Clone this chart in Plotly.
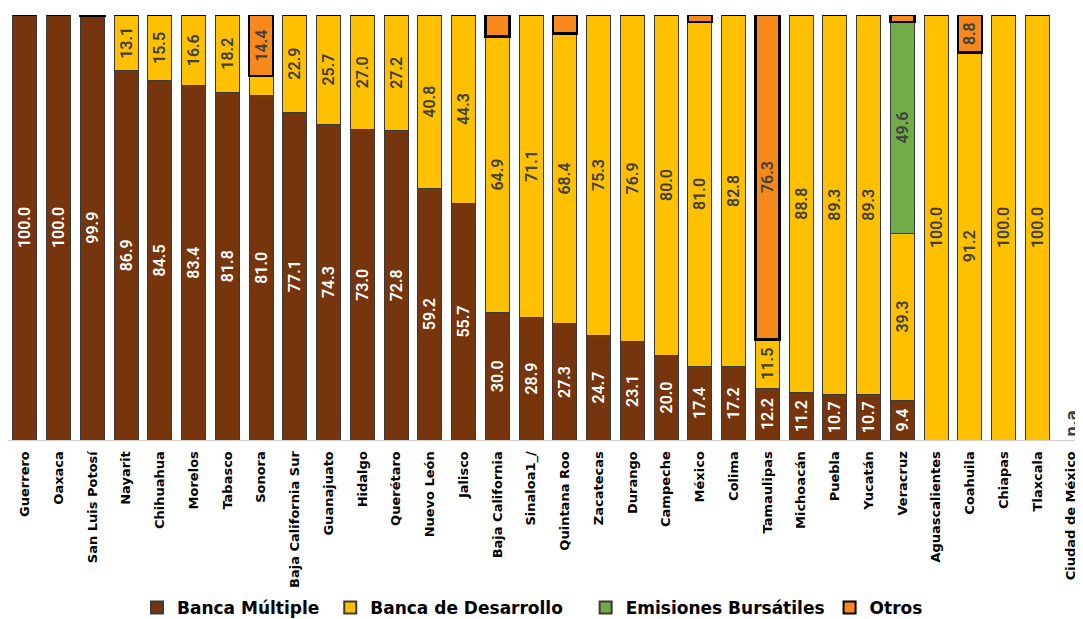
import plotly.graph_objects as go

states = ["Guerrero", "Oaxaca", "San Luis Potosí", "Nayarit", "Chihuahua", "Morelos",
          "Tabasco", "Sonora", "Baja California Sur", "Guanajuato", "Hidalgo", "Querétaro",
          "Nuevo León", "Jalisco", "Baja California", "Sinaloa1_/", "Quintana Roo",
          "Zacatecas", "Durango", "Campeche", "México", "Colima", "Tamaulipas",
          "Michoacán", "Puebla", "Yucatán", "Veracruz", "Aguascalientes", "Coahuila",
          "Chiapas", "Tlaxcala", "Ciudad de México"]

banca_multiple = [100.0, 100.0, 99.9, 86.9, 84.5, 83.4, 81.8, 81.0, 77.1, 74.3, 73.0, 72.8,
                  59.2, 55.7, 30.0, 28.9, 27.3, 24.7, 23.1, 20.0, 17.4, 17.2, 12.2,
                  11.2, 10.7, 10.7, 9.4, 0, 0, 0, 0, None]
banca_desarrollo = [0, 0, 0, 13.1, 15.5, 16.6, 18.2, 4.6, 22.9, 25.7, 27.0, 27.2,
                    40.8, 44.3, 64.9, 71.1, 68.4, 75.3, 76.9, 80.0, 81.0, 82.8, 11.5,
                    88.8, 89.3, 89.3, 39.3, 100.0, 91.2, 100.0, 100.0, None]
emisiones = [0, 0, 0, 0, 0, 0, 0, 0, 0, 0, 0, 0,
             0, 0, 0, 0, 0, 0, 0, 0, 0, 0, 0,
             0, 0, 0, 49.6, 0, 0, 0, 0, None]
otros = [0, 0, 0.1, 0, 0, 0, 0, 14.4, 0, 0, 0, 0,
         0, 0, 5.1, 0, 4.3, 0, 0, 0, 1.6, 0, 76.3,
         0, 0, 0, 1.7, 0, 8.8, 0, 0, None]
na_state = "Ciudad de México"
na_label = "n.a"
series_names = ["Banca Múltiple", "Banca de Desarrollo", "Emisiones Bursátiles", "Otros"]


def labels(vals, minimum):
    return [f"{v:.1f}" if (v is not None and v >= minimum) else "" for v in vals]


NB = "\u00a0"
LABEL_FONT = "Roboto"
series = [
    (series_names[0] + NB, banca_multiple, "#77350D", "#3a3a3a", 1, "white", 0.5),
    (series_names[1] + NB * 3, banca_desarrollo, "#FFC000", "#3a3a3a", 1, "#404040", 5),
    (series_names[2], emisiones, "#70AD47", "#3a3a3a", 1, "#404040", 5),
    (series_names[3], otros, "#F7891B", "#000000", 2.5, "#404040", 8),
]

fig = go.Figure()
for name, vals, color, lcolor, lw, tcolor, mn in series:
    fig.add_trace(go.Bar(
        x=states, y=vals, name=name,
        marker=dict(color=color, line=dict(color=lcolor, width=lw)),
        text=labels(vals, mn), textposition="inside", insidetextanchor="middle",
        textangle=-90,
        textfont=dict(family=LABEL_FONT, size=16, color=tcolor, weight=600),
        hoverinfo="skip",
    ))

fig.add_annotation(x=na_state, y=0, text=na_label, textangle=-90, showarrow=False,
                   yanchor="bottom", xanchor="center", yshift=1,
                   font=dict(family="DejaVu Sans", size=15, color="#404040", weight="bold"))

fig.update_layout(
    width=1075, height=611,
    barmode="stack", bargap=0.29,
    margin=dict(l=0, r=0, t=7, b=179, autoexpand=False),
    paper_bgcolor="white", plot_bgcolor="white",
    uniformtext=dict(minsize=16, mode="show"),
    showlegend=True,
    legend=dict(orientation="h", x=0.12, xanchor="left", y=-0.395, yanchor="middle",
                bgcolor="rgba(0,0,0,0)",
                font=dict(family="DejaVu Sans", size=17, color="#000000", weight="bold"),
                traceorder="normal", itemsizing="constant"),
    xaxis=dict(type="category", tickangle=-90, range=[-0.5, 31.35],
               tickfont=dict(family="DejaVu Sans", size=13, color="#000000", weight="bold"),
               ticklabelstandoff=5,
               showline=True, linecolor="#d0d0d0", linewidth=1, ticks="", showgrid=False),
    yaxis=dict(range=[0, 100], visible=False, showgrid=False),
)

fig.write_html("out.html")
